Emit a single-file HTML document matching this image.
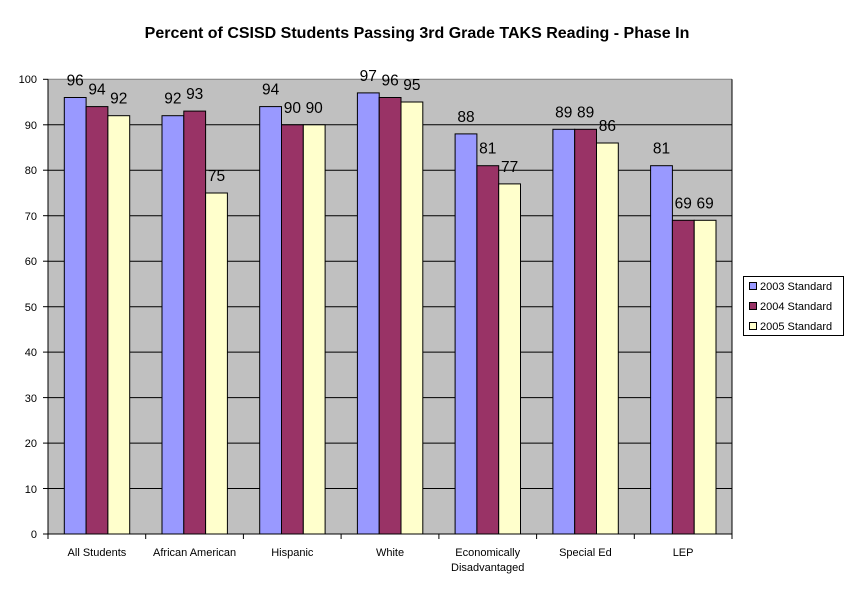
<!DOCTYPE html>
<html><head><meta charset="utf-8"><style>body{margin:0;background:#fff}</style></head><body>
<svg width="854" height="596" xmlns="http://www.w3.org/2000/svg" font-family="Liberation Sans, Arial, sans-serif">
<rect width="854" height="596" fill="#fff"/>
<text x="417" y="38" text-anchor="middle" font-size="16" font-weight="bold">Percent of CSISD Students Passing 3rd Grade TAKS Reading - Phase In</text>
<rect x="48" y="79.3" width="684" height="454.7" fill="#c0c0c0"/>
<g stroke="#000" stroke-width="1">
<line x1="48" x2="732" y1="79.3" y2="79.3" stroke="#808080"/><line x1="48" x2="732" y1="124.8" y2="124.8"/><line x1="48" x2="732" y1="170.2" y2="170.2"/><line x1="48" x2="732" y1="215.7" y2="215.7"/><line x1="48" x2="732" y1="261.2" y2="261.2"/><line x1="48" x2="732" y1="306.7" y2="306.7"/><line x1="48" x2="732" y1="352.1" y2="352.1"/><line x1="48" x2="732" y1="397.6" y2="397.6"/><line x1="48" x2="732" y1="443.1" y2="443.1"/><line x1="48" x2="732" y1="488.5" y2="488.5"/>
<line x1="732" x2="732" y1="79.3" y2="534"/>
<line x1="48" x2="48" y1="79.3" y2="534"/><line x1="43" x2="732" y1="534" y2="534"/>
<line x1="43" x2="48" y1="79.3" y2="79.3"/><line x1="43" x2="48" y1="124.8" y2="124.8"/><line x1="43" x2="48" y1="170.2" y2="170.2"/><line x1="43" x2="48" y1="215.7" y2="215.7"/><line x1="43" x2="48" y1="261.2" y2="261.2"/><line x1="43" x2="48" y1="306.7" y2="306.7"/><line x1="43" x2="48" y1="352.1" y2="352.1"/><line x1="43" x2="48" y1="397.6" y2="397.6"/><line x1="43" x2="48" y1="443.1" y2="443.1"/><line x1="43" x2="48" y1="488.5" y2="488.5"/>
<line x1="48" x2="48" y1="534" y2="539"/><line x1="145.7" x2="145.7" y1="534" y2="539"/><line x1="243.4" x2="243.4" y1="534" y2="539"/><line x1="341.1" x2="341.1" y1="534" y2="539"/><line x1="438.9" x2="438.9" y1="534" y2="539"/><line x1="536.6" x2="536.6" y1="534" y2="539"/><line x1="634.3" x2="634.3" y1="534" y2="539"/><line x1="732" x2="732" y1="534" y2="539"/>
</g>
<g font-size="11" text-anchor="end">
<text x="37" y="83">100</text><text x="37" y="129">90</text><text x="37" y="174">80</text><text x="37" y="220">70</text><text x="37" y="265">60</text><text x="37" y="311">50</text><text x="37" y="356">40</text><text x="37" y="402">30</text><text x="37" y="447">20</text><text x="37" y="493">10</text><text x="37" y="538">0</text>
</g>
<g stroke="#000" stroke-width="1">
<rect x="64.3" y="97.5" width="21.8" height="436.5" fill="#9999ff"/>
<rect x="86.1" y="106.6" width="21.8" height="427.4" fill="#993366"/>
<rect x="107.9" y="115.7" width="21.8" height="418.3" fill="#ffffcc"/>
<rect x="162.0" y="115.7" width="21.8" height="418.3" fill="#9999ff"/>
<rect x="183.8" y="111.1" width="21.8" height="422.9" fill="#993366"/>
<rect x="205.6" y="193.0" width="21.8" height="341.0" fill="#ffffcc"/>
<rect x="259.7" y="106.6" width="21.8" height="427.4" fill="#9999ff"/>
<rect x="281.5" y="124.8" width="21.8" height="409.2" fill="#993366"/>
<rect x="303.3" y="124.8" width="21.8" height="409.2" fill="#ffffcc"/>
<rect x="357.4" y="92.9" width="21.8" height="441.1" fill="#9999ff"/>
<rect x="379.2" y="97.5" width="21.8" height="436.5" fill="#993366"/>
<rect x="401.0" y="102.0" width="21.8" height="432.0" fill="#ffffcc"/>
<rect x="455.1" y="133.9" width="21.8" height="400.1" fill="#9999ff"/>
<rect x="476.9" y="165.7" width="21.8" height="368.3" fill="#993366"/>
<rect x="498.7" y="183.9" width="21.8" height="350.1" fill="#ffffcc"/>
<rect x="552.9" y="129.3" width="21.8" height="404.7" fill="#9999ff"/>
<rect x="574.7" y="129.3" width="21.8" height="404.7" fill="#993366"/>
<rect x="596.5" y="143.0" width="21.8" height="391.0" fill="#ffffcc"/>
<rect x="650.6" y="165.7" width="21.8" height="368.3" fill="#9999ff"/>
<rect x="672.4" y="220.3" width="21.8" height="313.7" fill="#993366"/>
<rect x="694.2" y="220.3" width="21.8" height="313.7" fill="#ffffcc"/>
</g>
<g font-size="15.5" text-anchor="middle">
<text x="75.2" y="85.5">96</text><text x="97.0" y="94.6">94</text><text x="118.8" y="103.7">92</text>
<text x="172.9" y="103.7">92</text><text x="194.7" y="99.1">93</text><text x="216.5" y="181">75</text>
<text x="270.6" y="94.6">94</text><text x="292.4" y="112.8">90</text><text x="314.2" y="112.8">90</text>
<text x="368.3" y="80.9">97</text><text x="390.1" y="85.5">96</text><text x="411.9" y="90">95</text>
<text x="466.0" y="121.9">88</text><text x="487.8" y="153.7">81</text><text x="509.6" y="171.9">77</text>
<text x="563.8" y="117.3">89</text><text x="585.6" y="117.3">89</text><text x="607.4" y="131">86</text>
<text x="661.5" y="153.7">81</text><text x="683.3" y="208.3">69</text><text x="705.1" y="208.3">69</text>
</g>
<g font-size="11" text-anchor="middle">
<text x="96.9" y="556">All Students</text><text x="194.6" y="556">African American</text><text x="292.3" y="556">Hispanic</text><text x="390" y="556">White</text><text x="487.7" y="556">Economically</text><text x="487.7" y="571">Disadvantaged</text><text x="585.4" y="556">Special Ed</text><text x="683.1" y="556">LEP</text>
</g>
<rect x="743.5" y="276.5" width="100" height="59" fill="#fff" stroke="#000"/>
<rect x="749.5" y="282.5" width="7" height="7" fill="#9999ff" stroke="#000"/>
<rect x="749.5" y="302.5" width="7" height="7" fill="#993366" stroke="#000"/>
<rect x="749.5" y="322.5" width="7" height="7" fill="#ffffcc" stroke="#000"/>
<g font-size="11"><text x="760" y="290">2003 Standard</text><text x="760" y="310">2004 Standard</text><text x="760" y="330">2005 Standard</text></g>
</svg>
</body></html>
